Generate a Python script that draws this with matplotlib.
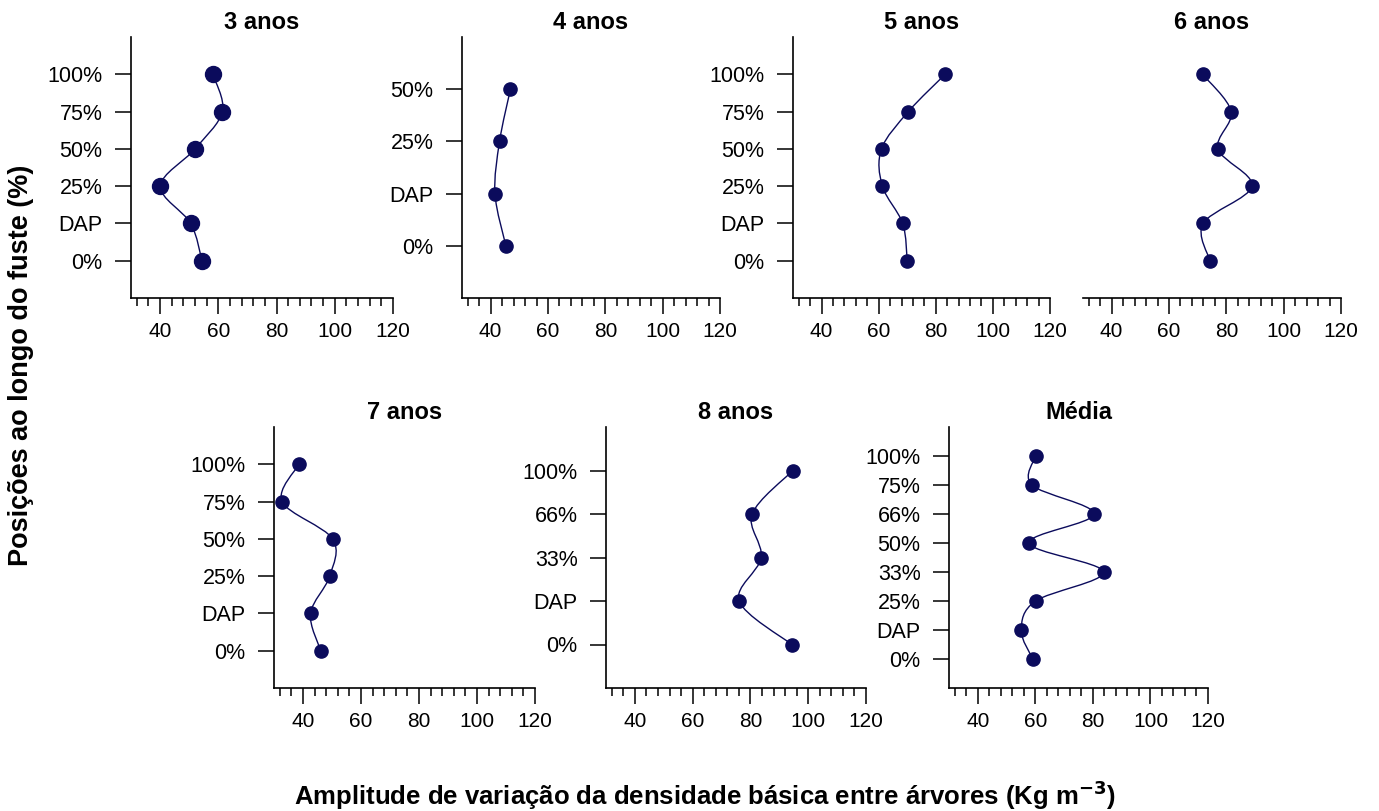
import matplotlib
matplotlib.use("Agg")
import matplotlib.pyplot as plt
from matplotlib.path import Path
from matplotlib.patches import PathPatch
from matplotlib.ticker import FixedLocator

plt.rcParams['font.family'] = ['Liberation Sans', 'DejaVu Sans']

# Dados (de baixo para cima ao longo do fuste)
titulos = ['3 anos', '4 anos', '5 anos', '6 anos', '7 anos', '8 anos', 'Média']

rotulos_6 = ['0%', 'DAP', '25%', '50%', '75%', '100%']
rotulos_4 = ['0%', 'DAP', '25%', '50%']
rotulos_8anos = ['0%', 'DAP', '33%', '66%', '100%']
rotulos_media = ['0%', 'DAP', '25%', '33%', '50%', '66%', '75%', '100%']

dens_3anos = [54.4, 50.5, 40.1, 52.0, 61.4, 58.1]
dens_4anos = [45.3, 41.5, 43.1, 46.9]
dens_5anos = [70.0, 68.4, 61.3, 61.0, 70.4, 83.3]
dens_6anos = [74.3, 71.9, 88.9, 77.1, 81.7, 71.7]
dens_7anos = [46.1, 42.6, 49.2, 50.2, 32.8, 38.6]
dens_8anos = [94.3, 76.1, 83.7, 80.6, 94.7]
dens_media = [59.1, 55.1, 60.1, 83.7, 57.8, 80.4, 58.8, 60.1]

valores = [dens_3anos, dens_4anos, dens_5anos, dens_6anos, dens_7anos, dens_8anos, dens_media]
rotulos = [rotulos_6, rotulos_4, rotulos_6, rotulos_6, rotulos_6, rotulos_8anos, rotulos_media]

W, H = 1379, 811
# posicao de cada painel em pixels: esquerda, direita, topo, base
caixas = [(131, 393, 37, 298), (462, 720, 37, 298), (793, 1050, 37, 298), (1083, 1341, 37, 298),
          (274, 535, 427, 688), (606, 866, 427, 688), (949, 1208, 427, 688)]

cor = '#0b0b5c'


def curva_suave(xs, ys):
    # spline de Catmull-Rom desenhada como curvas de Bezier
    pts = list(zip(xs, ys))
    n = len(pts)
    verts = [pts[0]]
    codes = [Path.MOVETO]
    for i in range(n - 1):
        p0 = pts[i - 1] if i > 0 else pts[i]
        p1 = pts[i]
        p2 = pts[i + 1]
        p3 = pts[i + 2] if i + 2 < n else pts[i + 1]
        c1 = (p1[0] + (p2[0] - p0[0]) / 6, p1[1] + (p2[1] - p0[1]) / 6)
        c2 = (p2[0] - (p3[0] - p1[0]) / 6, p2[1] - (p3[1] - p1[1]) / 6)
        verts += [c1, c2, p2]
        codes += [Path.CURVE4] * 3
    return Path(verts, codes)


fig = plt.figure(figsize=(W / 100, H / 100), dpi=100)

for k, (tit, vals, rots, (e, d, t, b)) in enumerate(zip(titulos, valores, rotulos, caixas)):
    ax = fig.add_axes([e / W, 1 - b / H, (d - e) / W, (b - t) / H])
    pos = list(range(len(vals)))
    ax.add_patch(PathPatch(curva_suave(vals, pos), facecolor='none', edgecolor=cor, lw=1.0))
    ms = 11.5 if k == 0 else 9.5
    ax.plot(vals, pos, 'o', color=cor, markersize=ms, zorder=3)

    ax.set_xlim(30, 120)
    ax.set_ylim(-1, len(vals))
    ax.xaxis.set_major_locator(FixedLocator([40, 60, 80, 100, 120]))
    ax.xaxis.set_minor_locator(FixedLocator([x for x in range(32, 121, 4) if x % 20 != 0]))
    ax.tick_params(axis='x', which='major', length=11.5, width=1.1, pad=6, labelsize=15)
    ax.tick_params(axis='x', which='minor', length=6, width=1.1)

    for s in ['top', 'right']:
        ax.spines[s].set_visible(False)
    for s in ['left', 'bottom']:
        ax.spines[s].set_linewidth(1.2)

    if tit == '6 anos':
        ax.spines['left'].set_visible(False)
        ax.set_yticks([])
    else:
        ax.set_yticks(pos)
        ax.set_yticklabels(rots)
        ax.tick_params(axis='y', length=11.5, width=1.1, pad=9, labelsize=15.5)

    ax.set_title(tit, fontsize=17, fontweight='bold', pad=6)

fig.text(0.015, 0.55, 'Posições ao longo do fuste (%)', rotation=90, ha='center', va='center',
         fontsize=19.5, fontweight='bold')
fig.text(0.511, 0.02, 'Amplitude de variação da densidade básica entre árvores (Kg m$^{\\mathbf{-3}}$)',
         ha='center', va='center', fontsize=18.5, fontweight='bold')

plt.savefig('out.png', dpi=100)
